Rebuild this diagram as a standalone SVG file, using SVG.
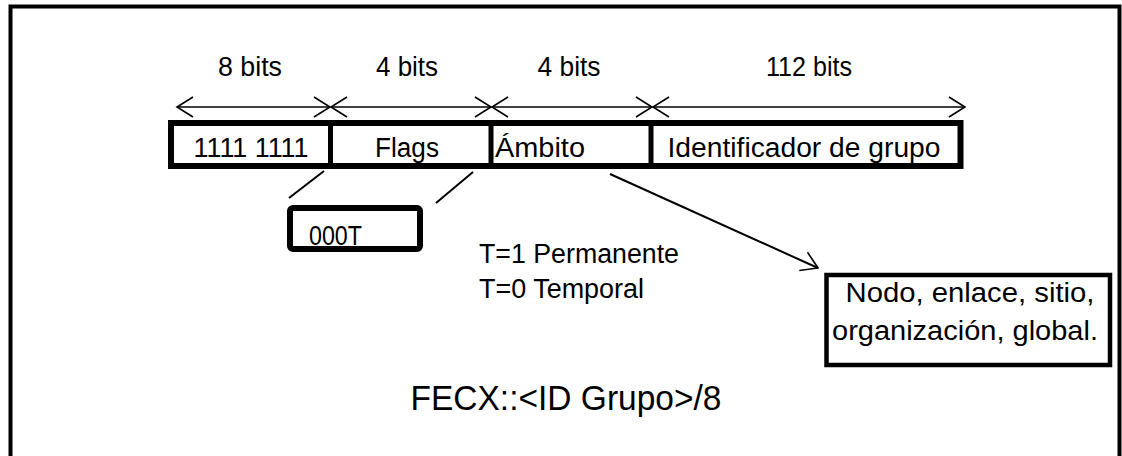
<svg xmlns="http://www.w3.org/2000/svg" width="1122" height="456" viewBox="0 0 1122 456">
  <style>
    text { font-family: "Liberation Sans", Arial, sans-serif; fill: #000; }
    .lbl { font-size: 27px; }
    .mid { text-anchor: middle; }
    .title { font-size: 35px; }
    .dim { stroke: #000; stroke-width: 1.5; fill: none; }
    .conn { stroke: #000; stroke-width: 2; fill: none; }
    .box { fill: #fff; stroke: #000; }
  </style>
  <defs>
    <marker id="open" viewBox="0 0 20 24" refX="18" refY="12" markerWidth="20" markerHeight="24" markerUnits="userSpaceOnUse" orient="auto-start-reverse">
      <path d="M2 2 L18 12 L2 22" fill="none" stroke="#000" stroke-width="1.6"/>
    </marker>
  </defs>

  <rect width="1122" height="456" fill="#fff"/>
  <!-- outer frame -->
  <rect x="10.5" y="6.5" width="1109" height="470" fill="none" stroke="#000" stroke-width="4"/>

  <!-- bit-width labels -->
  <g id="widths">
    <text class="lbl mid" x="250" y="76" textLength="64" lengthAdjust="spacingAndGlyphs">8 bits</text>
    <text class="lbl mid" x="407" y="76" textLength="62" lengthAdjust="spacingAndGlyphs">4 bits</text>
    <text class="lbl mid" x="569" y="76" textLength="63" lengthAdjust="spacingAndGlyphs">4 bits</text>
    <text class="lbl mid" x="809" y="76" textLength="86" lengthAdjust="spacingAndGlyphs">112 bits</text>
  </g>

  <!-- address field bar -->
  <g id="fields">
    <rect class="box" x="171" y="123" width="789.5" height="43" stroke-width="6"/>
    <line x1="330.5" y1="121" x2="330.5" y2="168" stroke="#000" stroke-width="5"/>
    <line x1="491" y1="121" x2="491" y2="168" stroke="#000" stroke-width="5"/>
    <line x1="651" y1="121" x2="651" y2="168" stroke="#000" stroke-width="5"/>
    <text class="lbl mid" x="251" y="157" textLength="115" lengthAdjust="spacingAndGlyphs">1111 1111</text>
    <text class="lbl mid" x="407" y="157" textLength="64" lengthAdjust="spacingAndGlyphs">Flags</text>
    <text class="lbl" x="495" y="157" textLength="90" lengthAdjust="spacingAndGlyphs">Ámbito</text>
    <text class="lbl mid" x="804" y="157" textLength="273" lengthAdjust="spacingAndGlyphs">Identificador de grupo</text>
  </g>

  <!-- flags detail box -->
  <g id="flags-detail">
    <rect class="box" x="290" y="208" width="130" height="41" rx="3" stroke-width="6"/>
    <text class="lbl" x="309" y="245" font-size="25" textLength="53" lengthAdjust="spacingAndGlyphs">000T</text>
  </g>

  <g id="flag-legend">
    <text class="lbl" x="479" y="263" textLength="200" lengthAdjust="spacingAndGlyphs">T=1 Permanente</text>
    <text class="lbl" x="479" y="298" textLength="165" lengthAdjust="spacingAndGlyphs">T=0 Temporal</text>
  </g>

  <!-- scope values box -->
  <g id="scope-values">
    <rect class="box" x="826.5" y="275" width="283.5" height="90" stroke-width="4.5"/>
    <text class="lbl mid" x="970" y="302" textLength="249" lengthAdjust="spacingAndGlyphs">Nodo, enlace, sitio,</text>
    <text class="lbl mid" x="965" y="340" textLength="266" lengthAdjust="spacingAndGlyphs">organización, global.</text>
  </g>

  <g id="format">
    <text class="title mid" x="566" y="410" textLength="311" lengthAdjust="spacingAndGlyphs">FECX::&lt;ID Grupo&gt;/8</text>
  </g>

  <!-- connectors: dimension arrows and leader lines -->
  <g id="connectors">
    <line class="dim" x1="177" y1="107" x2="330" y2="107" marker-start="url(#open)" marker-end="url(#open)"/>
    <line class="dim" x1="331" y1="107" x2="491" y2="107" marker-start="url(#open)" marker-end="url(#open)"/>
    <line class="dim" x1="492" y1="107" x2="652" y2="107" marker-start="url(#open)" marker-end="url(#open)"/>
    <line class="dim" x1="653" y1="107" x2="965" y2="107" marker-start="url(#open)" marker-end="url(#open)"/>
    <line class="conn" x1="324" y1="171" x2="289" y2="198"/>
    <line class="conn" x1="473" y1="172" x2="436" y2="203"/>
    <line class="conn" x1="610" y1="174" x2="818" y2="268" marker-end="url(#open)"/>
  </g>
</svg>
